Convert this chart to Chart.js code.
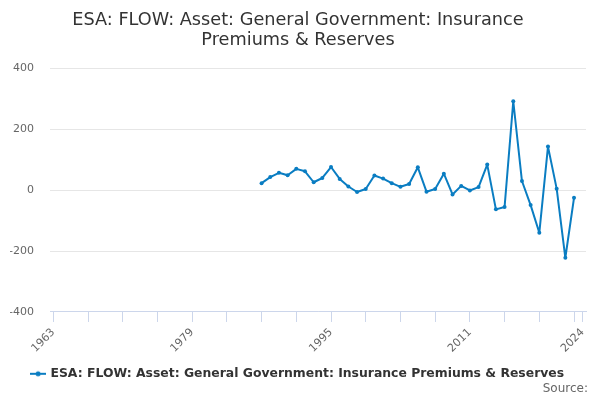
<!DOCTYPE html>
<html><head><meta charset="utf-8">
<script src="https://cdn.jsdelivr.net/npm/chart.js@4.4.0/dist/chart.umd.min.js"></script>
<style>
html,body{margin:0;padding:0;background:#fff;}
#wrap{position:relative;width:600px;height:400px;}
#src{position:absolute;right:12px;top:381px;font:12px "DejaVu Sans",sans-serif;color:#666;}
</style></head>
<body><div id="wrap"><canvas id="c" width="600" height="400"></canvas><div id="src">Source:</div></div>
<script>
const titleLines = ["ESA: FLOW: Asset: General Government: Insurance", "Premiums & Reserves"];
const seriesName = "ESA: FLOW: Asset: General Government: Insurance Premiums & Reserves";
const years = [1987,1988,1989,1990,1991,1992,1993,1994,1995,1996,1997,1998,1999,2000,2001,2002,2003,2004,2005,2006,2007,2008,2009,2010,2011,2012,2013,2014,2015,2016,2017,2018,2019,2020,2021,2022,2023];
const values = [23,43,57,49,70,62,26,40,76,37,12,-6,4,48,38,23,11,20,75,-5,4,54,-14,14,-1,10,84,-63,-55,292,30,-49,-140,143,5,-222,-25];
const xTicks = [1963,1967,1971,1975,1979,1983,1987,1991,1995,1999,2003,2007,2011,2015,2019,2023,2024];
const xLabels = [1963,1979,1995,2011,2024];
const yTicks = [-400,-200,0,200,400];

const color = "#0a7dc2";
const marker = document.createElement('canvas');
marker.width = 16; marker.height = 8;
(function(){const g=marker.getContext('2d');g.strokeStyle=color;g.lineWidth=2;g.beginPath();g.moveTo(0,4);g.lineTo(16,4);g.stroke();g.fillStyle=color;g.beginPath();g.arc(8,4,2.5,0,Math.PI*2);g.fill();})();

new Chart(document.getElementById('c'), {
  type: 'line',
  data: {
    datasets: [{
      label: seriesName,
      data: years.map((y,i)=>({x:y,y:values[i]})),
      borderColor: color,
      backgroundColor: color,
      borderWidth: 2,
      borderJoinStyle: 'round',
      borderCapStyle: 'round',
      pointRadius: 2,
      pointBorderWidth: 0,
      pointHoverRadius: 3,
      tension: 0,
      pointStyle: 'circle'
    }]
  },
  options: {
    responsive: false,
    animation: false,
    devicePixelRatio: 1,
    layout: { padding: { left: 10, right: 14, top: 6, bottom: 10 } },
    plugins: {
      title: {
        display: true,
        text: titleLines,
        color: '#333',
        font: { family: 'DejaVu Sans', size: 17.7, weight: 'normal', lineHeight: 1.14 },
        padding: { top: 4, bottom: 18 }
      },
      legend: {
        position: 'bottom',
        labels: {
          color: '#333',
          font: { family: 'DejaVu Sans', size: 12.4, weight: 'bold' },
          usePointStyle: true,
          pointStyle: marker,
          boxWidth: 16,
          padding: 8.5,
          generateLabels: (chart) => [{ text: seriesName, pointStyle: marker, fontColor: '#333', lineWidth: 0, strokeStyle: 'transparent', fillStyle: 'transparent', datasetIndex: 0 }]
        }
      },
      tooltip: { enabled: false }
    },
    scales: {
      x: {
        type: 'linear',
        min: 1962.62,
        max: 2024.38,
        afterBuildTicks: (s) => { s.ticks = xTicks.map(v => ({ value: v })); },
        ticks: {
          autoSkip: false,
          maxRotation: 45,
          minRotation: 45,
          color: '#666',
          font: { family: 'DejaVu Sans', size: 11 },
          padding: 4,
          callback: (v) => xLabels.includes(v) ? String(v) : ''
        },
        grid: { drawOnChartArea: false, drawTicks: true, tickLength: 10, color: '#ccd6eb' },
        border: { color: '#ccd6eb', width: 1 }
      },
      y: {
        min: -400,
        max: 400,
        afterBuildTicks: (s) => { s.ticks = yTicks.map(v => ({ value: v })); },
        afterFit: (s) => { s.width = 40; },
        ticks: {
          color: '#666',
          font: { family: 'DejaVu Sans', size: 11 },
          padding: 16
        },
        grid: { color: '#e6e6e6', drawTicks: false },
        border: { display: false }
      }
    }
  }
});
</script></body></html>
